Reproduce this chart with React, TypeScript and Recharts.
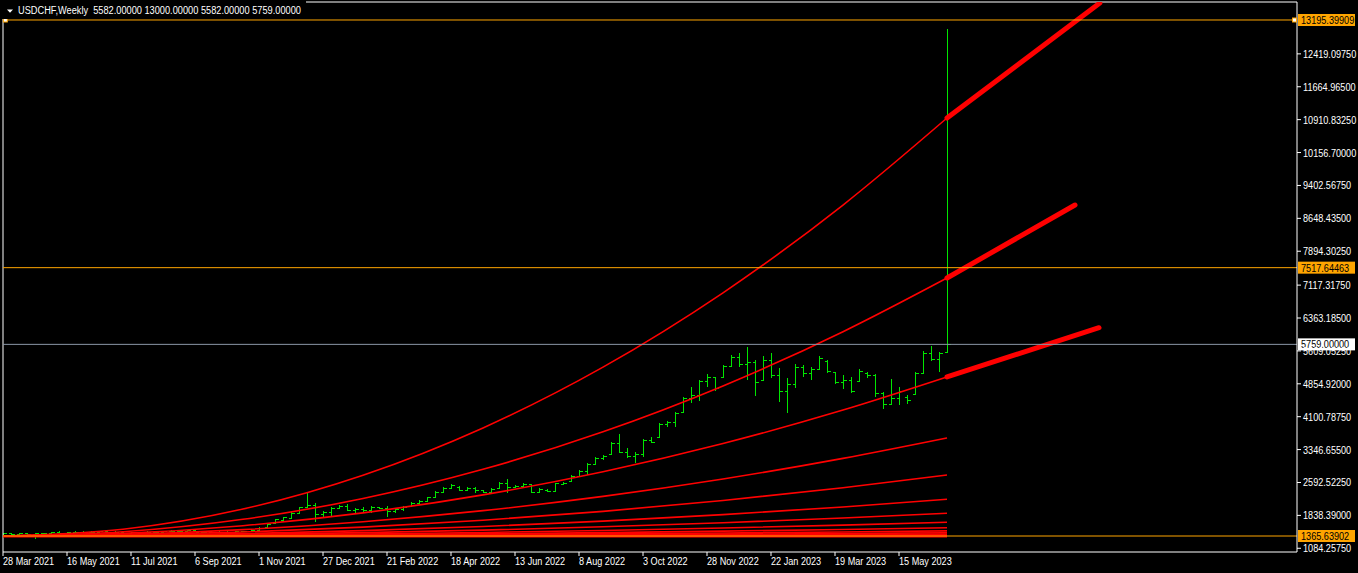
import { ComposedChart, Bar, Line, XAxis, YAxis, ReferenceLine, ReferenceDot } from 'recharts'

// weekly OHLC, one entry per bar
const barOpen = [
  1405, 1432, 1412, 1425, 1420, 1430, 1436, 1455, 1440, 1458, 1465, 1452, 1462, 1475, 1468, 1456, 1442, 1450, 1460, 1448,
  1462, 1478, 1470, 1482, 1495, 1465, 1450, 1462, 1455, 1468, 1478, 1485, 1510, 1575, 1665, 1740, 1780, 1900, 2030, 2080,
  1860, 1920, 2010, 2060, 1965, 1990, 1960, 2030, 2000, 1950, 1985, 2055, 2130, 2175, 2260, 2385, 2470, 2500, 2430, 2460,
  2420, 2380, 2470, 2590, 2490, 2520, 2555, 2380, 2430, 2400, 2560, 2630, 2750, 2860, 3020, 3160, 3250, 3500, 3300, 3200,
  3250, 3560, 3640, 3940, 3980, 4210, 4530, 4600, 4920, 5000, 5011, 5260, 5480, 5300, 5350, 4950, 5400, 5050, 4700, 4850,
  5250, 5100, 5200, 5380, 5125, 4900, 4950, 4930, 5100, 5050, 4650, 4400, 4520, 4560, 4620, 5110, 5550, 5420, 5582,
]
const barHigh = [
  1440, 1445, 1430, 1438, 1435, 1442, 1468, 1470, 1465, 1475, 1478, 1470, 1485, 1488, 1480, 1472, 1460, 1468, 1478, 1470,
  1485, 1492, 1490, 1505, 1505, 1480, 1470, 1478, 1475, 1485, 1490, 1520, 1572, 1641, 1755, 1801, 1916, 2030, 2374, 2122,
  1939, 2030, 2076, 2099, 2008, 2030, 2053, 2035, 2053, 2008, 2053, 2145, 2191, 2260, 2397, 2489, 2558, 2512, 2489, 2489,
  2425, 2466, 2604, 2672, 2535, 2581, 2558, 2466, 2443, 2581, 2604, 2764, 2879, 3039, 3177, 3223, 3521, 3704, 3383, 3291,
  3589, 3635, 3956, 4002, 4208, 4552, 4782, 4942, 5080, 5011, 5286, 5515, 5561, 5699, 5401, 5492, 5561, 5217, 4988, 5309,
  5286, 5240, 5492, 5401, 5130, 5057, 5011, 5194, 5125, 5080, 4667, 4965, 4782, 4598, 5125, 5607, 5722, 5584, 13000,
]
const barLow = [
  1390, 1395, 1398, 1400, 1297, 1405, 1410, 1430, 1425, 1440, 1445, 1440, 1450, 1455, 1445, 1430, 1425, 1435, 1440, 1430,
  1450, 1460, 1455, 1455, 1450, 1440, 1430, 1445, 1440, 1450, 1452, 1460, 1480, 1572, 1664, 1732, 1778, 1893, 2030, 1687,
  1801, 1824, 2008, 1939, 1870, 1916, 1893, 1985, 1801, 1893, 1939, 2053, 2122, 2145, 2260, 2374, 2466, 2397, 2397, 2351,
  2351, 2374, 2466, 2351, 2489, 2489, 2351, 2351, 2374, 2374, 2535, 2627, 2741, 2764, 3016, 3108, 3246, 3268, 3154, 3039,
  3177, 3498, 3635, 3865, 3865, 4208, 4415, 4461, 4782, 4690, 5011, 5240, 5240, 4942, 4575, 4942, 4988, 4438, 4186, 4759,
  5011, 4942, 5194, 5103, 4850, 4736, 4644, 4919, 4988, 4552, 4277, 4392, 4369, 4392, 4615, 5103, 5378, 5125, 5582,
]
const barClose = [
  1432, 1412, 1425, 1420, 1430, 1436, 1455, 1440, 1458, 1465, 1452, 1462, 1475, 1468, 1456, 1442, 1450, 1460, 1448, 1462,
  1478, 1470, 1482, 1495, 1465, 1450, 1462, 1455, 1468, 1478, 1485, 1510, 1560, 1630, 1745, 1790, 1900, 2020, 2080, 1860,
  1920, 2010, 2060, 1965, 1990, 1960, 2040, 2000, 1950, 1985, 2040, 2130, 2175, 2250, 2385, 2470, 2540, 2430, 2460, 2420,
  2370, 2440, 2590, 2480, 2520, 2560, 2380, 2440, 2400, 2570, 2590, 2750, 2860, 3020, 3160, 3200, 3500, 3300, 3200, 3250,
  3560, 3520, 3940, 3980, 4190, 4530, 4600, 4920, 5000, 4760, 5260, 5480, 5300, 5350, 4900, 5400, 5050, 4700, 4850, 5250,
  5100, 5200, 5450, 5150, 4900, 4950, 4700, 5150, 5050, 4650, 4400, 4520, 4700, 4480, 5100, 5550, 5420, 5560, 5759,
]

// fan curves, sampled at these bar indices
const fanIdx = [0, 15, 30, 45, 60, 75, 90, 105, 118]
const fanCurves = [
  [1366, 1521, 1985, 2760, 3844, 5237, 6941, 8954, 10949],
  [1366, 1462, 1748, 2226, 2895, 3756, 4807, 6050, 7281],
  [1366, 1425, 1602, 1896, 2308, 2839, 3486, 4252, 5011],
  [1366, 1402, 1511, 1693, 1947, 2274, 2673, 3145, 3613],
  [1366, 1389, 1456, 1569, 1727, 1931, 2179, 2473, 2764],
  [1366, 1380, 1420, 1488, 1583, 1706, 1855, 2032, 2207],
  [1366, 1374, 1400, 1442, 1500, 1576, 1668, 1778, 1886],
  [1366, 1371, 1386, 1412, 1447, 1493, 1549, 1615, 1680],
  [1366, 1369, 1378, 1394, 1415, 1443, 1477, 1516, 1556],
  [1366, 1368, 1374, 1383, 1397, 1414, 1435, 1459, 1484],
  [1366, 1367, 1371, 1377, 1385, 1395, 1408, 1424, 1439],
  [1366, 1367, 1369, 1373, 1378, 1384, 1392, 1402, 1411],
  [1366, 1366, 1368, 1370, 1373, 1377, 1382, 1388, 1394],
  [1366, 1366, 1367, 1368, 1370, 1373, 1376, 1379, 1383],
  [1350, 1350, 1350, 1350, 1350, 1350, 1350, 1350, 1350],
]

// thick projections off the three upper curves
const extStartIdx = [118, 118, 118]
const extEndIdx = [137.1, 134, 137]
const extStartVal = [10949, 7281, 5011]
const extEndVal = [13585, 8954, 6141]

const levelTop = 13195.39909
const levelMid = 7517.64463
const levelLow = 1365.63902
const lastPrice = 5759

const yTicks = [
  1084.2575, 1838.39, 2592.5225, 3346.655, 4100.7875, 4854.92, 5609.0525, 6363.185,
  7117.3175, 7894.3025, 8648.435, 9402.5675, 10156.7, 10910.8325, 11664.965, 12419.0975,
]
const xTickIdx = [0, 8, 16, 24, 32, 40, 48, 56, 64, 72, 80, 88, 96, 104, 112]
const xTickLabels = [
  '28 Mar 2021', '16 May 2021', '11 Jul 2021', '6 Sep 2021', '1 Nov 2021', '27 Dec 2021', '21 Feb 2022',
  '18 Apr 2022', '13 Jun 2022', '8 Aug 2022', '3 Oct 2022', '28 Nov 2022', '22 Jan 2023', '19 Mar 2023', '15 May 2023',
]

const bars = barOpen.map((open, i) => ({
  i,
  open,
  high: barHigh[i],
  low: barLow[i],
  close: barClose[i],
  range: [barLow[i], barHigh[i]],
}))
const fanData = fanCurves.map((c) => fanIdx.map((i, k) => ({ i, v: c[k] })))
const extData = extStartIdx.map((s, k) => [
  { i: s, v: extStartVal[k] },
  { i: extEndIdx[k], v: extEndVal[k] },
])

const FONT = '"Liberation Sans", Arial, sans-serif'
const GREEN = '#00e600'
const RED = '#ff0000'
const ORANGE = '#ffa500'

function OhlcShape(props: any) {
  const { x, y, width, height, payload } = props
  const top = Math.min(y, y + height)
  const h = Math.abs(height)
  const cx = Math.round(x + width / 2) + 0.5
  const span = payload.high - payload.low || 1
  const yo = Math.round(top + ((payload.high - payload.open) / span) * h) + 0.5
  const yc = Math.round(top + ((payload.high - payload.close) / span) * h) + 0.5
  return (
    <g stroke={GREEN} strokeWidth={1} shapeRendering="crispEdges">
      <line x1={cx} x2={cx} y1={top} y2={top + Math.max(h, 1)} />
      <line x1={cx - 3} x2={cx} y1={yo} y2={yo} />
      <line x1={cx} x2={cx + 3} y1={yc} y2={yc} />
    </g>
  )
}

function XTick(props: any) {
  const { x, y, payload } = props
  const label = xTickLabels[xTickIdx.indexOf(payload.value)]
  return (
    <text transform={`translate(${x},${y + 6.5}) scale(0.83,1)`} fill="#fff" fontSize={11} fontFamily={FONT}>
      {label}
    </text>
  )
}

function YTick(props: any) {
  const { x, y, payload } = props
  return (
    <text transform={`translate(${x},${y + 4}) scale(0.83,1)`} fill="#fff" fontSize={11} fontFamily={FONT}>
      {payload.value.toFixed(5)}
    </text>
  )
}

function priceTag(text: string, bg: string, fg: string) {
  return (props: any) => {
    const vb = props.viewBox
    const x = vb.x + vb.width + 1
    const y = vb.y
    return (
      <g>
        <rect x={x} y={y - 6} width={57} height={12} fill={bg} />
        <text transform={`translate(${x + 3},${y + 4}) scale(0.83,1)`} fill={fg} fontSize={11} fontFamily={FONT}>
          {text}
        </text>
      </g>
    )
  }
}

function Anchor(props: any) {
  const { cx, cy } = props
  return <rect x={cx - 2} y={cy - 2} width={4} height={4} fill="#fff" stroke={ORANGE} strokeWidth={1} />
}

export default function App() {
  return (
    <div style={{ position: 'absolute', left: 0, top: 0, width: 1358, height: 573, background: '#000' }}>
      <ComposedChart
        width={1358}
        height={573}
        data={bars}
        margin={{ top: 2, right: 0, bottom: 0, left: 3 }}
      >
        <XAxis
          dataKey="i"
          type="number"
          domain={[0, 161.75]}
          allowDataOverflow
          ticks={xTickIdx}
          interval={0}
          height={21}
          axisLine={{ stroke: '#fff' }}
          tickLine={{ stroke: '#fff' }}
          tickSize={4}
          tick={<XTick />}
        />
        <YAxis
          orientation="right"
          width={61}
          domain={[998.825, 13608.065]}
          allowDataOverflow
          ticks={yTicks}
          interval={0}
          axisLine={{ stroke: '#fff' }}
          tickLine={{ stroke: '#fff' }}
          tickSize={4}
          tick={<YTick />}
        />
        <ReferenceLine x={0} stroke="#fff" />
        <ReferenceLine y={13608.065} stroke="#fff" />

        <Bar dataKey="range" barSize={7} shape={<OhlcShape />} isAnimationActive={false} />

        {fanData.map((d, k) => (
          <Line
            key={`fan-${k}`}
            data={d}
            dataKey="v"
            type="monotone"
            stroke={RED}
            strokeWidth={1.6}
            dot={false}
            isAnimationActive={false}
          />
        ))}
        {extData.map((d, k) => (
          <Line
            key={`ext-${k}`}
            data={d}
            dataKey="v"
            type="linear"
            stroke={RED}
            strokeWidth={5}
            strokeLinecap="round"
            dot={false}
            isAnimationActive={false}
          />
        ))}

        <ReferenceLine y={lastPrice} stroke="#8a96a6" label={{ content: priceTag('5759.00000', '#fff', '#000') }} />
        <ReferenceLine y={levelTop} stroke={ORANGE} label={{ content: priceTag('13195.39909', ORANGE, '#000') }} />
        <ReferenceLine y={levelMid} stroke={ORANGE} label={{ content: priceTag('7517.64463', ORANGE, '#000') }} />
        <ReferenceLine y={levelLow} stroke={ORANGE} label={{ content: priceTag('1365.63902', ORANGE, '#000') }} />
        <ReferenceDot x={0.29} y={levelTop} shape={<Anchor />} />
        <ReferenceDot x={161.44} y={levelTop} shape={<Anchor />} />
      </ComposedChart>

      <svg width={320} height={19} style={{ position: 'absolute', left: 0, top: 0 }}>
        <rect x={0} y={0} width={306} height={19} fill="#000" />
        <polygon points="7,9.5 13,9.5 10,12.7" fill="#fff" />
        <text
          transform="translate(18,14) scale(0.84,1)"
          fill="#fff"
          fontSize={11}
          fontFamily={FONT}
          style={{ whiteSpace: 'pre' }}
        >
          {'USDCHF,Weekly  5582.00000 13000.00000 5582.00000 5759.00000'}
        </text>
      </svg>
    </div>
  )
}
